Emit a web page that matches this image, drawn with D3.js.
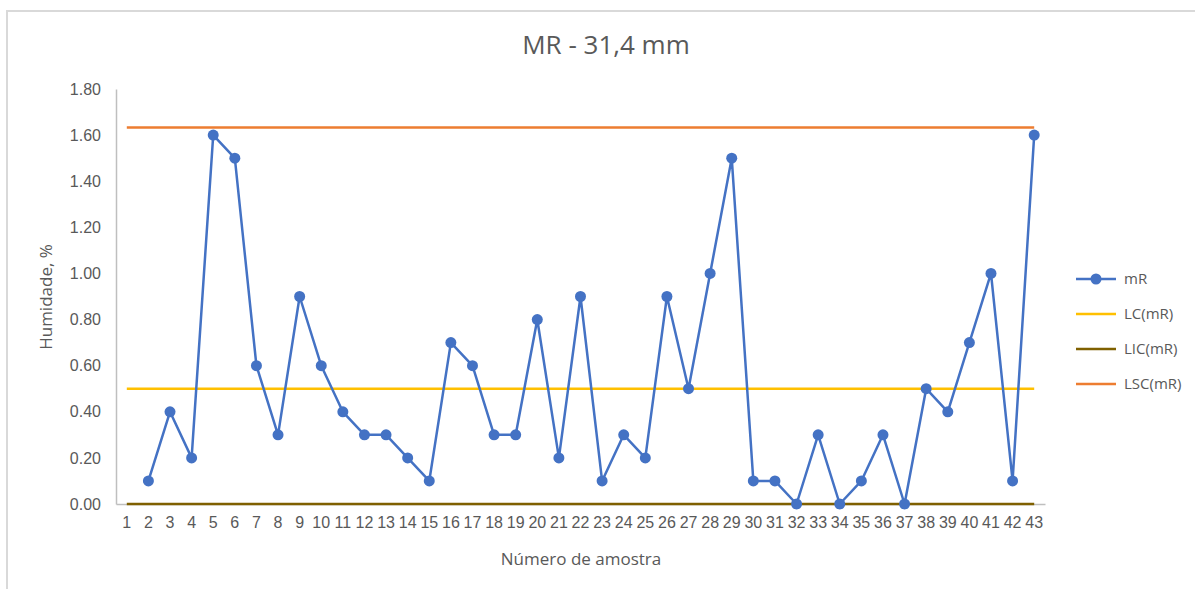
<!DOCTYPE html>
<html lang="pt">
  <head>
    <meta charset="utf-8">
    <title>MR - 31,4 mm</title>
    <script type="text/javascript" src="https://d3js.org/d3.v7.min.js"></script>
    <style type="text/css">
      body {
        margin: 0;
        background: #ffffff;
      }
      svg {
        display: block;
        font-family: "Open Sans", "Noto Sans", sans-serif;
      }
      .title {
        font-size: 26px;
        fill: #595959;
        text-anchor: middle;
      }
      .axis-title {
        font-size: 17px;
        fill: #595959;
        text-anchor: middle;
      }
      .tick text {
        font-size: 16px;
        fill: #595959;
      }
      .legend text {
        font-size: 15px;
        fill: #595959;
      }
    </style>
  </head>
  <body>
    <script type="text/javascript">

    // data
    const samples = d3.range(1, 44);   // 1..43
    const mR = [null, 0.1, 0.4, 0.2, 1.6, 1.5, 0.6, 0.3, 0.9, 0.6,
                0.4, 0.3, 0.3, 0.2, 0.1, 0.7, 0.6, 0.3, 0.3, 0.8,
                0.2, 0.9, 0.1, 0.3, 0.2, 0.9, 0.5, 1.0, 1.5, 0.1,
                0.1, 0.0, 0.3, 0.0, 0.1, 0.3, 0.0, 0.5, 0.4, 0.7,
                1.0, 0.1, 1.6];
    const LC = 0.5;
    const LIC = 0;
    const LSC = 1.6335;
    const yTicks = [0, 0.2, 0.4, 0.6, 0.8, 1.0, 1.2, 1.4, 1.6, 1.8];

    const legendItems = [
      {name: 'mR', color: '#4472c4', marker: true},
      {name: 'LC(mR)', color: '#ffc000', marker: false},
      {name: 'LIC(mR)', color: '#7f6000', marker: false},
      {name: 'LSC(mR)', color: '#ed7d31', marker: false}
    ];

    // layout
    const width = 1195;
    const height = 589;
    const plot = {left: 116, right: 1045, top: 89, bottom: 504};

    const svg = d3.select('body')
      .append('svg')
      .attr('width', width)
      .attr('height', height);

    // chart frame
    svg.append('rect')
      .attr('x', 7)
      .attr('y', 11)
      .attr('width', 1200)
      .attr('height', 600)
      .attr('fill', 'none')
      .attr('stroke', '#d9d9d9')
      .attr('stroke-width', 2);

    // scales
    const x = d3.scaleBand()
      .domain(samples)
      .range([plot.left, plot.right]);

    const cx = d => x(d) + x.bandwidth() / 2;

    const y = d3.scaleLinear()
      .domain([0, 1.8])
      .range([plot.bottom, plot.top]);

    // y axis
    const yAxis = svg.append('g')
      .attr('transform', 'translate(' + plot.left + ',0)')
      .call(d3.axisLeft(y).tickValues(yTicks).tickFormat(d3.format('.2f')).tickSize(0).tickPadding(15));
    yAxis.select('.domain').attr('stroke', '#bfbfbf').attr('stroke-width', 1.5);

    // x axis
    const xAxis = svg.append('g')
      .attr('transform', 'translate(0,' + plot.bottom + ')')
      .call(d3.axisBottom(x).tickSize(0).tickPadding(13));
    xAxis.select('.domain').attr('stroke', '#bfbfbf').attr('stroke-width', 1.5);

    // control lines
    const limits = [
      {value: LC, color: '#ffc000'},
      {value: LIC, color: '#7f6000'},
      {value: LSC, color: '#ed7d31'}
    ];

    svg.append('g')
      .selectAll('line')
      .data(limits)
      .enter()
      .append('line')
      .attr('x1', cx(samples[0]))
      .attr('x2', cx(samples[samples.length - 1]))
      .attr('y1', d => y(d.value))
      .attr('y2', d => y(d.value))
      .attr('stroke', d => d.color)
      .attr('stroke-width', 2.5);

    // mR series
    const points = samples.map((s, i) => ({s: s, v: mR[i]})).filter(d => d.v !== null);

    const line = d3.line()
      .x(d => cx(d.s))
      .y(d => y(d.v));

    svg.append('path')
      .datum(points)
      .attr('d', line)
      .attr('fill', 'none')
      .attr('stroke', '#4472c4')
      .attr('stroke-width', 2.5)
      .attr('stroke-linejoin', 'round');

    svg.append('g')
      .selectAll('circle')
      .data(points)
      .enter()
      .append('circle')
      .attr('cx', d => cx(d.s))
      .attr('cy', d => y(d.v))
      .attr('r', 5.5)
      .attr('fill', '#4472c4');

    // titles
    svg.append('text')
      .attr('class', 'title')
      .attr('x', 606)
      .attr('y', 54)
      .text('MR - 31,4 mm');

    svg.append('text')
      .attr('class', 'axis-title')
      .attr('transform', 'translate(52,' + 297 + ') rotate(-90)')
      .text('Humidade, %');

    svg.append('text')
      .attr('class', 'axis-title')
      .attr('x', 581)
      .attr('y', 565)
      .text('Número de amostra');

    // legend
    const legend = svg.append('g')
      .attr('class', 'legend')
      .selectAll('g')
      .data(legendItems)
      .enter()
      .append('g')
      .attr('transform', (d, i) => 'translate(1076,' + (279 + i * 35) + ')');

    legend.append('line')
      .attr('x1', 0)
      .attr('x2', 40)
      .attr('stroke', d => d.color)
      .attr('stroke-width', 2.5);

    legend.filter(d => d.marker)
      .append('circle')
      .attr('cx', 20)
      .attr('r', 5.5)
      .attr('fill', d => d.color);

    legend.append('text')
      .attr('x', 48)
      .attr('dy', '0.35em')
      .text(d => d.name);

    </script>
  </body>
</html>
